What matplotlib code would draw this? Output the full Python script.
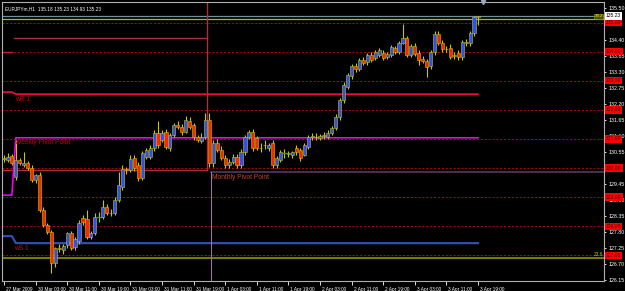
import matplotlib
matplotlib.use("Agg")
import matplotlib.pyplot as plt
import matplotlib.transforms as mtransforms
import numpy as np

plt.rcParams["font.family"] = ["Liberation Sans", "DejaVu Sans"]

# EURJPYm H1 candles, 27 Mar 2009 -> 3 Apr 2009
opens = [130.31, 130.28, 130.41, 129.69, 130.28, 130.10, 130.17, 130.00, 129.59, 129.76,
         128.56, 128.04, 127.80, 126.74, 127.25, 127.18, 127.36, 127.77, 127.29, 127.49,
         128.28, 128.25, 127.63, 127.77, 128.32, 128.32, 128.66, 128.46, 128.46, 128.90,
         129.35, 129.97, 129.93, 130.35, 130.10, 129.66, 130.38, 130.38, 130.69, 131.20,
         130.96, 131.24, 130.69, 131.14, 131.48, 131.41, 131.24, 131.62, 131.48, 131.07,
         130.93, 131.07, 131.65, 130.17, 130.86, 130.62, 130.35, 130.10, 130.21, 130.38,
         130.10, 130.55, 131.07, 131.24, 131.03, 130.69, 130.78, 130.69, 130.86, 130.10,
         130.28, 130.51, 130.50, 130.45, 130.69, 130.62, 130.45, 130.72, 131.07, 131.08,
         131.03, 131.10, 131.07, 131.20, 131.38, 131.75, 132.34, 132.80, 133.16, 133.50,
         133.40, 133.71, 133.64, 133.88, 133.78, 133.88, 133.95, 133.82, 133.88, 134.13,
         133.99, 134.30, 134.47, 133.88, 134.19, 133.95, 133.75, 133.68, 133.50, 133.99,
         134.61, 134.30, 134.09, 134.12, 133.86, 133.95, 133.82, 134.30, 134.30, 134.64,
         135.18]
highs = [130.45, 130.52, 130.50, 130.96, 130.35, 130.55, 130.25, 130.10, 129.80, 129.85,
         128.65, 128.10, 127.88, 127.30, 127.40, 127.40, 127.80, 127.85, 127.62, 128.20,
         128.40, 128.55, 127.85, 128.45, 128.50, 128.90, 128.75, 128.60, 129.00, 129.86,
         130.10, 130.05, 130.45, 130.45, 130.20, 130.60, 130.70, 130.80, 131.30, 131.62,
         131.30, 131.35, 131.20, 131.55, 131.62, 131.50, 131.80, 131.75, 131.55, 131.15,
         131.20, 131.89, 131.90, 130.95, 131.00, 130.75, 130.45, 130.30, 130.50, 130.48,
         130.65, 131.12, 131.30, 131.35, 131.10, 130.85, 130.95, 130.85, 130.95, 130.40,
         130.62, 130.65, 130.60, 130.60, 130.78, 130.70, 130.85, 131.15, 131.20, 131.20,
         131.18, 131.25, 131.30, 131.45, 131.85, 132.40, 132.95, 133.25, 133.58, 133.60,
         133.78, 133.80, 133.95, 133.98, 134.05, 134.12, 134.05, 133.98, 134.22, 134.20,
         134.35, 134.95, 134.55, 134.25, 134.30, 134.05, 133.85, 133.75, 134.05, 134.70,
         134.70, 134.40, 134.20, 134.25, 133.98, 134.05, 134.40, 134.42, 134.72, 135.23,
         135.23]
lows = [130.20, 130.22, 130.12, 129.59, 130.12, 130.05, 129.95, 129.52, 129.50, 128.50,
        127.98, 127.75, 126.39, 126.60, 127.10, 127.05, 127.25, 127.20, 127.20, 127.40,
        128.05, 127.55, 127.55, 127.70, 128.15, 128.25, 128.40, 128.35, 128.40, 128.85,
        129.25, 129.80, 129.85, 129.90, 129.55, 129.60, 130.30, 130.30, 130.60, 130.70,
        130.90, 130.65, 130.60, 131.05, 131.35, 131.15, 131.20, 131.35, 130.95, 130.90,
        130.85, 131.00, 130.05, 130.05, 130.55, 130.28, 130.00, 130.00, 130.15, 130.00,
        130.00, 130.45, 131.00, 130.60, 130.62, 130.55, 130.65, 130.60, 130.00, 130.00,
        130.20, 130.35, 130.38, 130.35, 130.45, 130.25, 130.40, 130.65, 130.98, 130.95,
        130.95, 131.00, 131.00, 131.12, 131.30, 131.65, 132.25, 132.70, 133.05, 133.30,
        133.35, 133.55, 133.55, 133.65, 133.70, 133.80, 133.72, 133.75, 133.80, 133.92,
        133.92, 134.25, 133.80, 133.80, 133.85, 133.55, 133.60, 133.13, 133.40, 133.90,
        134.22, 134.00, 133.98, 133.75, 133.75, 133.72, 133.72, 134.20, 134.20, 134.55,
        134.93]
closes = [130.34, 130.38, 130.17, 130.28, 130.17, 130.17, 130.00, 129.59, 129.76, 128.56,
          128.04, 127.80, 126.74, 127.25, 127.22, 127.32, 127.77, 127.25, 127.56, 128.11,
          128.15, 127.63, 127.77, 128.32, 128.32, 128.66, 128.46, 128.47, 128.90, 129.42,
          129.97, 129.93, 130.31, 130.00, 129.66, 130.52, 130.62, 130.69, 131.20, 130.79,
          131.20, 130.72, 131.14, 131.48, 131.41, 131.24, 131.65, 131.41, 131.07, 130.96,
          131.07, 131.65, 130.17, 130.86, 130.62, 130.35, 130.10, 130.21, 130.38, 130.10,
          130.55, 131.07, 131.24, 130.69, 130.69, 130.70, 130.79, 130.79, 130.10, 130.35,
          130.55, 130.51, 130.53, 130.55, 130.55, 130.35, 130.79, 131.07, 131.10, 131.06,
          131.10, 131.12, 131.20, 131.38, 131.75, 132.34, 132.85, 133.20, 133.50, 133.40,
          133.71, 133.62, 133.88, 133.71, 133.99, 134.06, 133.78, 133.92, 134.16, 133.99,
          134.30, 134.47, 133.88, 134.19, 133.92, 133.71, 133.68, 133.47, 133.99, 134.61,
          134.30, 134.09, 134.10, 133.82, 133.88, 133.82, 134.33, 134.33, 134.64, 135.19,
          135.23]

tick_labels = ["27 Mar 2009", "30 Mar 03:00", "30 Mar 11:00", "30 Mar 19:00", "31 Mar 03:00",
               "31 Mar 11:00", "31 Mar 19:00", "1 Apr 03:00", "1 Apr 11:00", "1 Apr 19:00",
               "2 Apr 03:00", "2 Apr 11:00", "2 Apr 19:00", "3 Apr 03:00", "3 Apr 11:00",
               "3 Apr 19:00"]
price_ticks = [126.15, 126.70, 127.25, 127.80, 128.35, 128.90, 129.45, 130.00, 130.55,
               131.10, 131.65, 132.20, 132.75, 133.30, 133.85, 134.40, 134.95, 135.50]
round_levels = [127.0, 128.0, 129.0, 130.0, 131.0, 132.0, 133.0, 134.0, 135.0]

# weekly pivots: previous week, current week
weekly_pivot = [129.07, 131.04]
weekly_r1 = [132.61, 132.54]
weekly_s1 = [127.66, 127.42]
weekly_r2 = [133.99, 136.50]
week_start = 3
# monthly pivots
march_pivot, march_r1 = 129.93, 134.47
april_pivot = 129.86
month_start = 53
fib_levels = {"38.2": 135.12, "23.6": 126.91}
bid = 135.23
header = "EURJPYm,H1  135.18 135.23 134.93 135.23"

UP, DOWN, WICK = "#2f4fff", "#ff2400", "#c8c800"
n = len(opens)

fig = plt.figure(figsize=(6.25, 2.91), dpi=100, facecolor="black")
ax = fig.add_axes([2 / 625, 10 / 291, 602 / 625, 279 / 291], facecolor="black")
ax.set_xlim(-0.5, 151.9)
ax.set_ylim(126.119, 135.706)
tr = mtransforms.blended_transform_factory(ax.transAxes, ax.transData)

# round-number dotted levels
for lvl in round_levels:
    ax.axhline(lvl, color="#c00000", lw=0.7, ls=(0, (2, 2)), zorder=1)

ax.axhline(bid, color="#7d8a99", lw=0.9, zorder=1)
ax.axhline(fib_levels["38.2"], color="#b8b800", lw=0.9, zorder=1)
ax.axhline(fib_levels["23.6"], color="#7a7a00", lw=1.5, zorder=1)

# weekly lines
xw = np.arange(-1, n)
def weekly(vals):
    return np.where(xw < week_start, vals[0], vals[1])
ax.plot(xw, weekly(weekly_pivot), color="#ff00ff", lw=1.1, zorder=2)
ax.plot(xw, weekly(weekly_r1), color="#ff1040", lw=1.1, zorder=2)
ax.plot(xw, weekly(weekly_s1), color="#3050b0", lw=1.6, zorder=2)
ax.plot(xw[:week_start + 1], weekly(weekly_r2)[:week_start + 1], color="#d01838", lw=1.0, zorder=2)

# monthly lines
m_end = month_start - 1.5
ax.plot([-1, m_end, m_end], [march_pivot, march_pivot, 136.5], color="#a8323c", lw=1.0, zorder=2)
ax.plot([week_start - 0.5, m_end], [march_r1, march_r1], color="#a8323c", lw=1.0, zorder=2)
ax.plot([month_start - 0.5, 160], [april_pivot, april_pivot], color="#5e3e60", lw=1.1, zorder=2)
ax.plot([month_start - 0.5, month_start - 0.5], [april_pivot, 120], color="#b070b0", lw=0.7, zorder=2)

# candles
for i in range(n):
    o, h, l, c = opens[i], highs[i], lows[i], closes[i]
    ax.plot([i, i], [l, h], color=WICK, lw=0.8, zorder=3, solid_capstyle="butt")
    if o == c:
        ax.plot([i - 0.45, i + 0.45], [o, o], color="#00c000", lw=0.9, zorder=4)
    else:
        ax.bar(i, abs(c - o), bottom=min(o, c), width=0.8,
               color=UP if c > o else DOWN, edgecolor=WICK, linewidth=0.4, zorder=4)

# labels for pivot lines
lab = dict(fontsize=4.8, color="#c80000", va="top", ha="left", zorder=5)
ax.text(week_start - 0.2, weekly_r1[1] - 0.05, "wR 1", **lab)
ax.text(week_start - 0.3, weekly_pivot[1] - 0.05, "Weekly Pivot Point", **lab)
ax.text(week_start - 0.5, weekly_s1[1] - 0.05, "wS 1", **lab)
ax.text(month_start - 0.3, april_pivot - 0.06, "Monthly Pivot Point", fontsize=4.8,
        color="#c8442a", va="top", ha="left", zorder=5)
ax.text(0.005, 0.985, header, transform=ax.transAxes, fontsize=3.4, color="white",
        va="top", ha="left")

ax.text(0.998, fib_levels["38.2"] + 0.03, "38.2", transform=tr, fontsize=3.2,
        color="#e8e860", ha="right", va="bottom", zorder=6,
        bbox=dict(boxstyle="square,pad=0.15", fc="#505000", ec="#a0a000", lw=0.4))
ax.text(0.998, fib_levels["23.6"] + 0.03, "23.6", transform=tr, fontsize=3.4,
        color="#c8c800", ha="right", va="bottom", zorder=6)

# chart shift marker
ax.plot([n + 0.3], [135.706], marker="v", color="#a0a8c0", ms=3, clip_on=False, zorder=6)

# axes styling
for s in ax.spines.values():
    s.set_color("#b0b0b0")
    s.set_linewidth(0.8)
ax.set_xticks(range(0, n, 8))
ax.set_xticklabels(tick_labels)
ax.tick_params(axis="x", colors="white", labelsize=3.4, length=3, width=0.6, pad=1.0)
offset = mtransforms.ScaledTranslation(2 / 100, 0, fig.dpi_scale_trans)
for t in ax.get_xticklabels():
    t.set_horizontalalignment("left")
    t.set_transform(t.get_transform() + offset)
ax.yaxis.tick_right()
ax.set_yticks(price_ticks)
# labels hidden behind the level boxes are left blank
ax.set_yticklabels(["" if min(abs(v - r) for r in round_levels) < 0.06 else f"{v:.2f}"
                    for v in price_ticks])
ax.tick_params(axis="y", colors="white", labelsize=3.8, length=1.5, width=0.6, pad=1.5)

# price boxes on the right axis
for lvl in round_levels:
    ax.text(1.003, lvl, f"{lvl:.2f}", transform=tr, fontsize=3.6, color="#3a0000",
            va="center", ha="left", zorder=7, clip_on=False,
            bbox=dict(boxstyle="square,pad=0.25", fc="#ff0000", ec="none"))
ax.text(1.003, bid, f"{bid:.2f}", transform=tr, fontsize=3.6, color="black",
        va="center", ha="left", zorder=7, clip_on=False,
        bbox=dict(boxstyle="square,pad=0.25", fc="white", ec="none"))

fig.savefig("out.png", dpi=100, facecolor="black")
